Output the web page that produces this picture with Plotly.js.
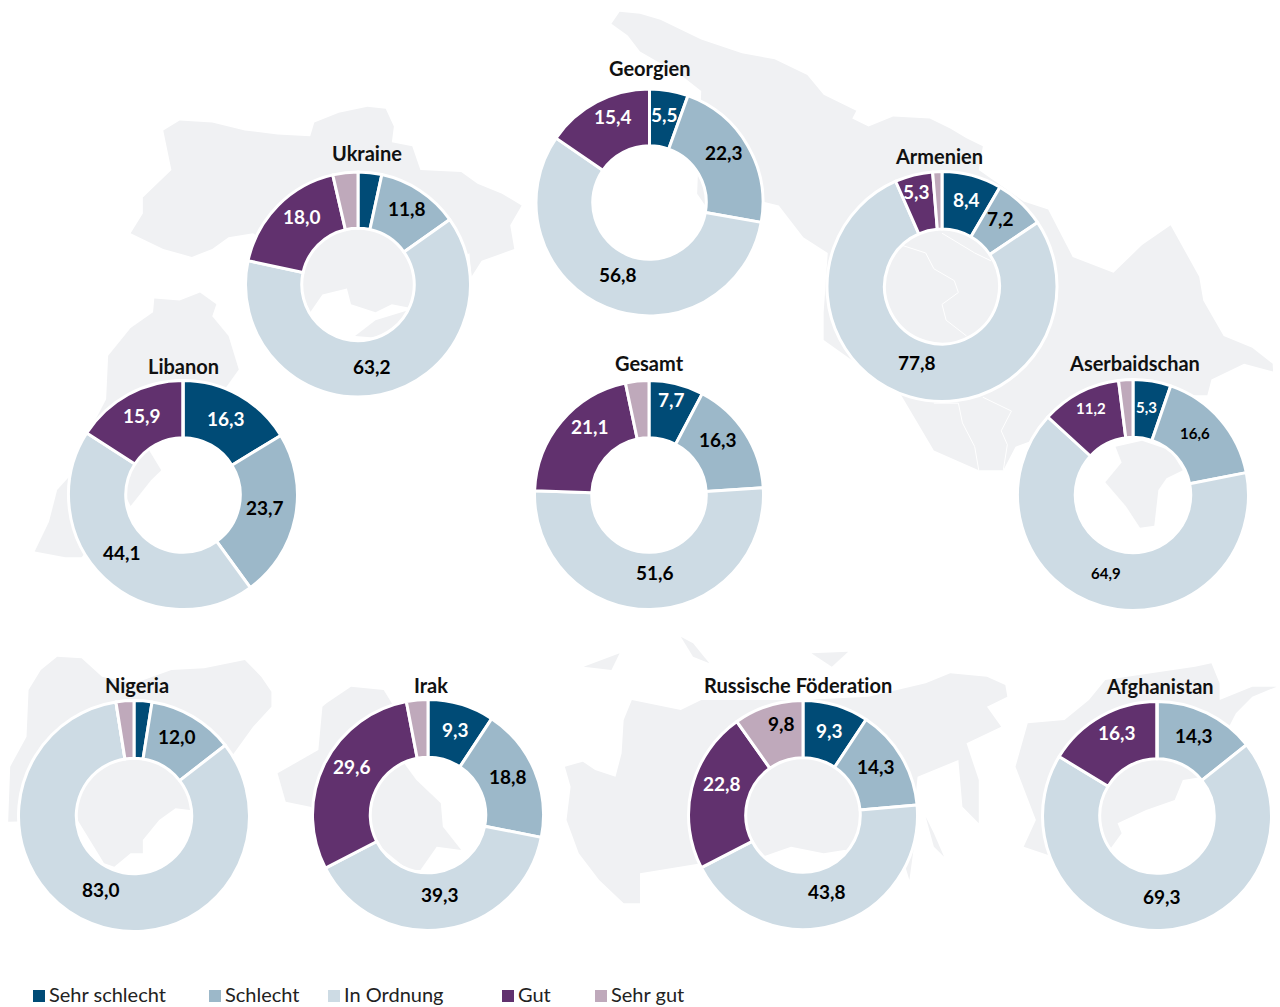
<!DOCTYPE html>
<html><head><meta charset="utf-8">
<script src="https://cdn.plot.ly/plotly-3.0.1.min.js"></script>
<style>html,body{margin:0;padding:0;background:#fff}#c{width:1280px;height:1007px}
.annotation-text{font-variant-ligatures:none;font-feature-settings:"liga" 0}</style>
</head><body><div id="c"></div>
<script>
const categories=["Sehr schlecht","Schlecht","In Ordnung","Gut","Sehr gut"];
const colors=["#004b76","#9cb8c9","#cddbe4","#61316e","#bfa9bb"];
const textColors=["#ffffff","#000000","#000000","#ffffff","#000000"];

const countries=["Georgien","Ukraine","Armenien","Libanon","Gesamt","Aserbaidschan","Nigeria","Irak","Russische Föderation","Afghanistan"];
const georgien=[5.5,22.3,56.8,15.4,0];
const ukraine=[3.4,11.8,63.2,18.0,3.6];
const armenien=[8.4,7.2,77.8,5.3,1.3];
const libanon=[16.3,23.7,44.1,15.9,0];
const gesamt=[7.7,16.3,51.6,21.1,3.3];
const aserbaidschan=[5.3,16.6,64.9,11.2,2.0];
const nigeria=[2.5,12.0,83.0,0,2.5];
const irak=[9.3,18.8,39.3,29.6,3.0];
const russland=[9.3,14.3,43.8,22.8,9.8];
const afghanistan=[0,14.3,69.3,16.3,0];
const series=[georgien,ukraine,armenien,libanon,gesamt,aserbaidschan,nigeria,irak,russland,afghanistan];

// layout only
const W=1280,H=1007;
const centers=[[649.5,202.5],[358,284.5],[942,286.5],[183,495],[649,495],[1133,495],[134,816],[428,815],[803,815],[1157,816]];
const radii=[113.5,112.5,115,114.5,114.5,115.5,115.5,115.5,114.5,114.5];
const titlePos=[[650,67.5],[367,153.5],[939,155.5],[183,365.5],[649,363.5],[1134,363.5],[137,684.5],[431,684.5],[798,684.5],[1160,685.5]];
const labelSize=[19,19,19,19,19,15,19,19,19,19];
const labelPos=[
 [[664,115],[724,153],[618,274],[613,116],null],
 [null,[407,209],[372,366],[302,216],null],
 [[966,200],[1000,218],[917,363],[916,192],null],
 [[226,418],[265,507],[122,552],[142,415],null],
 [[671,399],[718,440],[655,572],[590,426],null],
 [[1146,407],[1195,433],[1106,573],[1091,408],null],
 [null,[177,736],[101,889],null,null],
 [[455,729],[508,776],[440,894],[352,766],null],
 [[829,730],[876,766],[827,891],[722,783],[781,723]],
 [null,[1194,735],[1162,896],[1117,732],null]
];
const legendSwatchX=[33,209,328,502,595];
const FONT='Lato, "Noto Sans", sans-serif';

const de=v=>v.toFixed(1).replace(".",",");
const px=x=>x/W, py=y=>1-y/H;

const traces=series.map((vals,i)=>{
  const [cx,cy]=centers[i], r=radii[i];
  return {type:"pie",sort:false,direction:"clockwise",rotation:0,hole:0.5,
    labels:categories,values:vals,textinfo:"none",
    marker:{colors:colors,line:{color:"#ffffff",width:3}},
    domain:{x:[px(cx-r),px(cx+r)],y:[py(cy+r),py(cy-r)]},
    showlegend:false,hoverinfo:"label+value"};
});

// background map silhouettes, traced in zoom-panel coordinates
const A=[0,0,2.45,2.53],B=[640,0,2.45,2.53],C=[0,620,2.45,3],D=[640,620,2.45,3];
const maps=[
 [A,[[400,330],[440,305],[520,310],[600,330],[680,340],[760,345],[770,310],[830,285],[900,270],[945,275],[965,320],[960,360],[1010,370],[1030,430],[1130,435],[1170,465],[1230,490],[1278,520],[1250,570],[1260,630],[1180,660],[1155,700],[1150,640],[1010,780],[960,770],[920,790],[860,770],[850,730],[790,745],[760,790],[700,650],[620,590],[560,600],[520,630],[470,650],[400,630],[320,590],[350,540],[350,500],[420,430],[410,380]]],
 [A,[[870,850],[920,810],[1000,785],[990,820],[930,855]]],
 [A,[[378,755],[440,760],[490,740],[530,770],[520,800],[560,850],[585,935],[540,1000],[360,1130],[395,1190],[370,1215],[320,1280],[310,1260],[200,1410],[160,1410],[85,1395],[120,1320],[140,1240],[175,1200],[215,1100],[260,1010],[265,900],[320,830],[375,790]]],
 [B,[[-70,60],[-50,30],[0,35],[50,50],[150,100],[250,135],[330,150],[410,190],[450,240],[530,280],[520,300],[560,320],[620,295],[710,300],[760,325],[800,350],[840,370],[830,430],[940,510],[1000,530],[1060,650],[1160,690],[1230,620],[1300,570],[1370,700],[1380,760],[1430,850],[1500,880],[1550,920],[1551,940],[1480,920],[1400,960],[1390,1000],[1290,1000],[1000,1100],[920,1130],[890,1190],[830,1190],[720,1140],[640,1000],[450,860],[450,790],[460,640],[400,600],[340,520],[300,510],[160,520],[140,490],[150,230],[100,190],[0,130],[-30,90]]],
 [B,[[1165,1130],[1230,1115],[1300,1140],[1330,1190],[1290,1210],[1270,1240],[1260,1330],[1225,1335],[1190,1280],[1140,1220],[1180,1170]]],
 [C,[[100,150],[140,110],[200,115],[250,170],[330,190],[420,150],[500,145],[600,120],[640,170],[665,215],[665,260],[620,320],[570,405],[465,570],[430,565],[390,600],[350,660],[350,700],[320,700],[280,740],[255,730],[190,600],[20,605],[25,440],[65,350],[70,210]]],
 [C,[[800,250],[860,200],[940,210],[960,250],[990,430],[1020,480],[1080,550],[1085,620],[1130,690],[1070,680],[1030,750],[1000,750],[920,670],[760,560],[700,545],[680,460],[780,390],[790,260]]],
 [D,[[-184,440],[-140,425],[-110,450],[-60,470],[-45,400],[-40,300],[-20,240],[100,270],[150,240],[230,240],[400,240],[560,230],[700,190],[760,160],[850,170],[895,195],[900,230],[850,260],[885,320],[800,370],[830,480],[830,610],[790,560],[780,420],[680,470],[670,590],[680,600],[660,780],[640,700],[500,690],[450,700],[370,680],[300,710],[150,730],[0,760],[0,850],[-40,850],[-100,780],[-150,700],[-180,600],[-170,500]]],
 [D,[[700,590],[720,640],[745,710],[720,680]]],
 [D,[[100,50],[130,70],[170,130],[130,110]]],
 [D,[[420,100],[510,95],[470,140]]],
 [D,[[-138,140],[-50,100],[-70,150]]],
 [D,[[950,310],[1040,300],[1100,240],[1140,180],[1360,140],[1400,130],[1420,190],[1420,240],[1500,200],[1560,200],[1500,230],[1460,280],[1380,470],[1330,480],[1310,540],[1240,570],[1170,610],[1180,640],[1150,690],[1000,705],[940,680],[970,600],[920,440]]]
];
const borders=[
 [B,[[640,620],[700,640],[720,680],[770,710],[780,740],[740,770],[750,810],[800,850]]],
 [B,[[740,590],[820,640],[860,660]]],
 [B,[[720,1020],[780,1020],[790,1070],[820,1130],[830,1190]]],
 [B,[[840,1005],[910,1040],[885,1090],[900,1125],[890,1190]]]
];
const toPath=(p,pts,close)=>pts.map((q,i)=>(i?"L":"M")+px(p[0]+q[0]/p[2]).toFixed(5)+","+py(p[1]+q[1]/p[3]).toFixed(5)).join(" ")+(close?" Z":"");
const shapes=maps.map(([p,pts])=>({type:"path",xref:"paper",yref:"paper",layer:"below",path:toPath(p,pts,true),fillcolor:"#f0f1f3",line:{width:0}}));
borders.forEach(([p,pts])=>shapes.push({type:"path",xref:"paper",yref:"paper",layer:"below",path:toPath(p,pts,false),line:{color:"#ffffff",width:1}}));
legendSwatchX.forEach((x,i)=>shapes.push({type:"rect",xref:"paper",yref:"paper",x0:px(x),x1:px(x+12),y0:py(1002),y1:py(990),fillcolor:colors[i],line:{width:0}}));

const annotations=countries.map((t,i)=>({text:"<b>"+t+"</b>",xref:"paper",yref:"paper",x:px(titlePos[i][0]),y:py(titlePos[i][1]),xanchor:"center",yanchor:"middle",showarrow:false,font:{family:FONT,size:20,color:"#111111"}}));
categories.forEach((t,i)=>annotations.push({text:t,xref:"paper",yref:"paper",x:px(legendSwatchX[i]+16),y:py(994),xanchor:"left",yanchor:"middle",showarrow:false,xshift:-2,font:{family:FONT,size:20,color:"#222222"}}));
series.forEach((vals,i)=>vals.forEach((v,k)=>{
  const pos=labelPos[i][k];
  if(!pos)return;
  annotations.push({text:"<b>"+de(v)+"</b>",xref:"paper",yref:"paper",x:px(pos[0]),y:py(pos[1]),xanchor:"center",yanchor:"middle",showarrow:false,font:{family:FONT,size:labelSize[i],color:textColors[k]}});
}));

Plotly.newPlot("c",traces,{width:W,height:H,margin:{l:0,r:0,t:0,b:0},paper_bgcolor:"#ffffff",plot_bgcolor:"#ffffff",showlegend:false,shapes,annotations},{displayModeBar:false,staticPlot:true});
</script></body></html>
